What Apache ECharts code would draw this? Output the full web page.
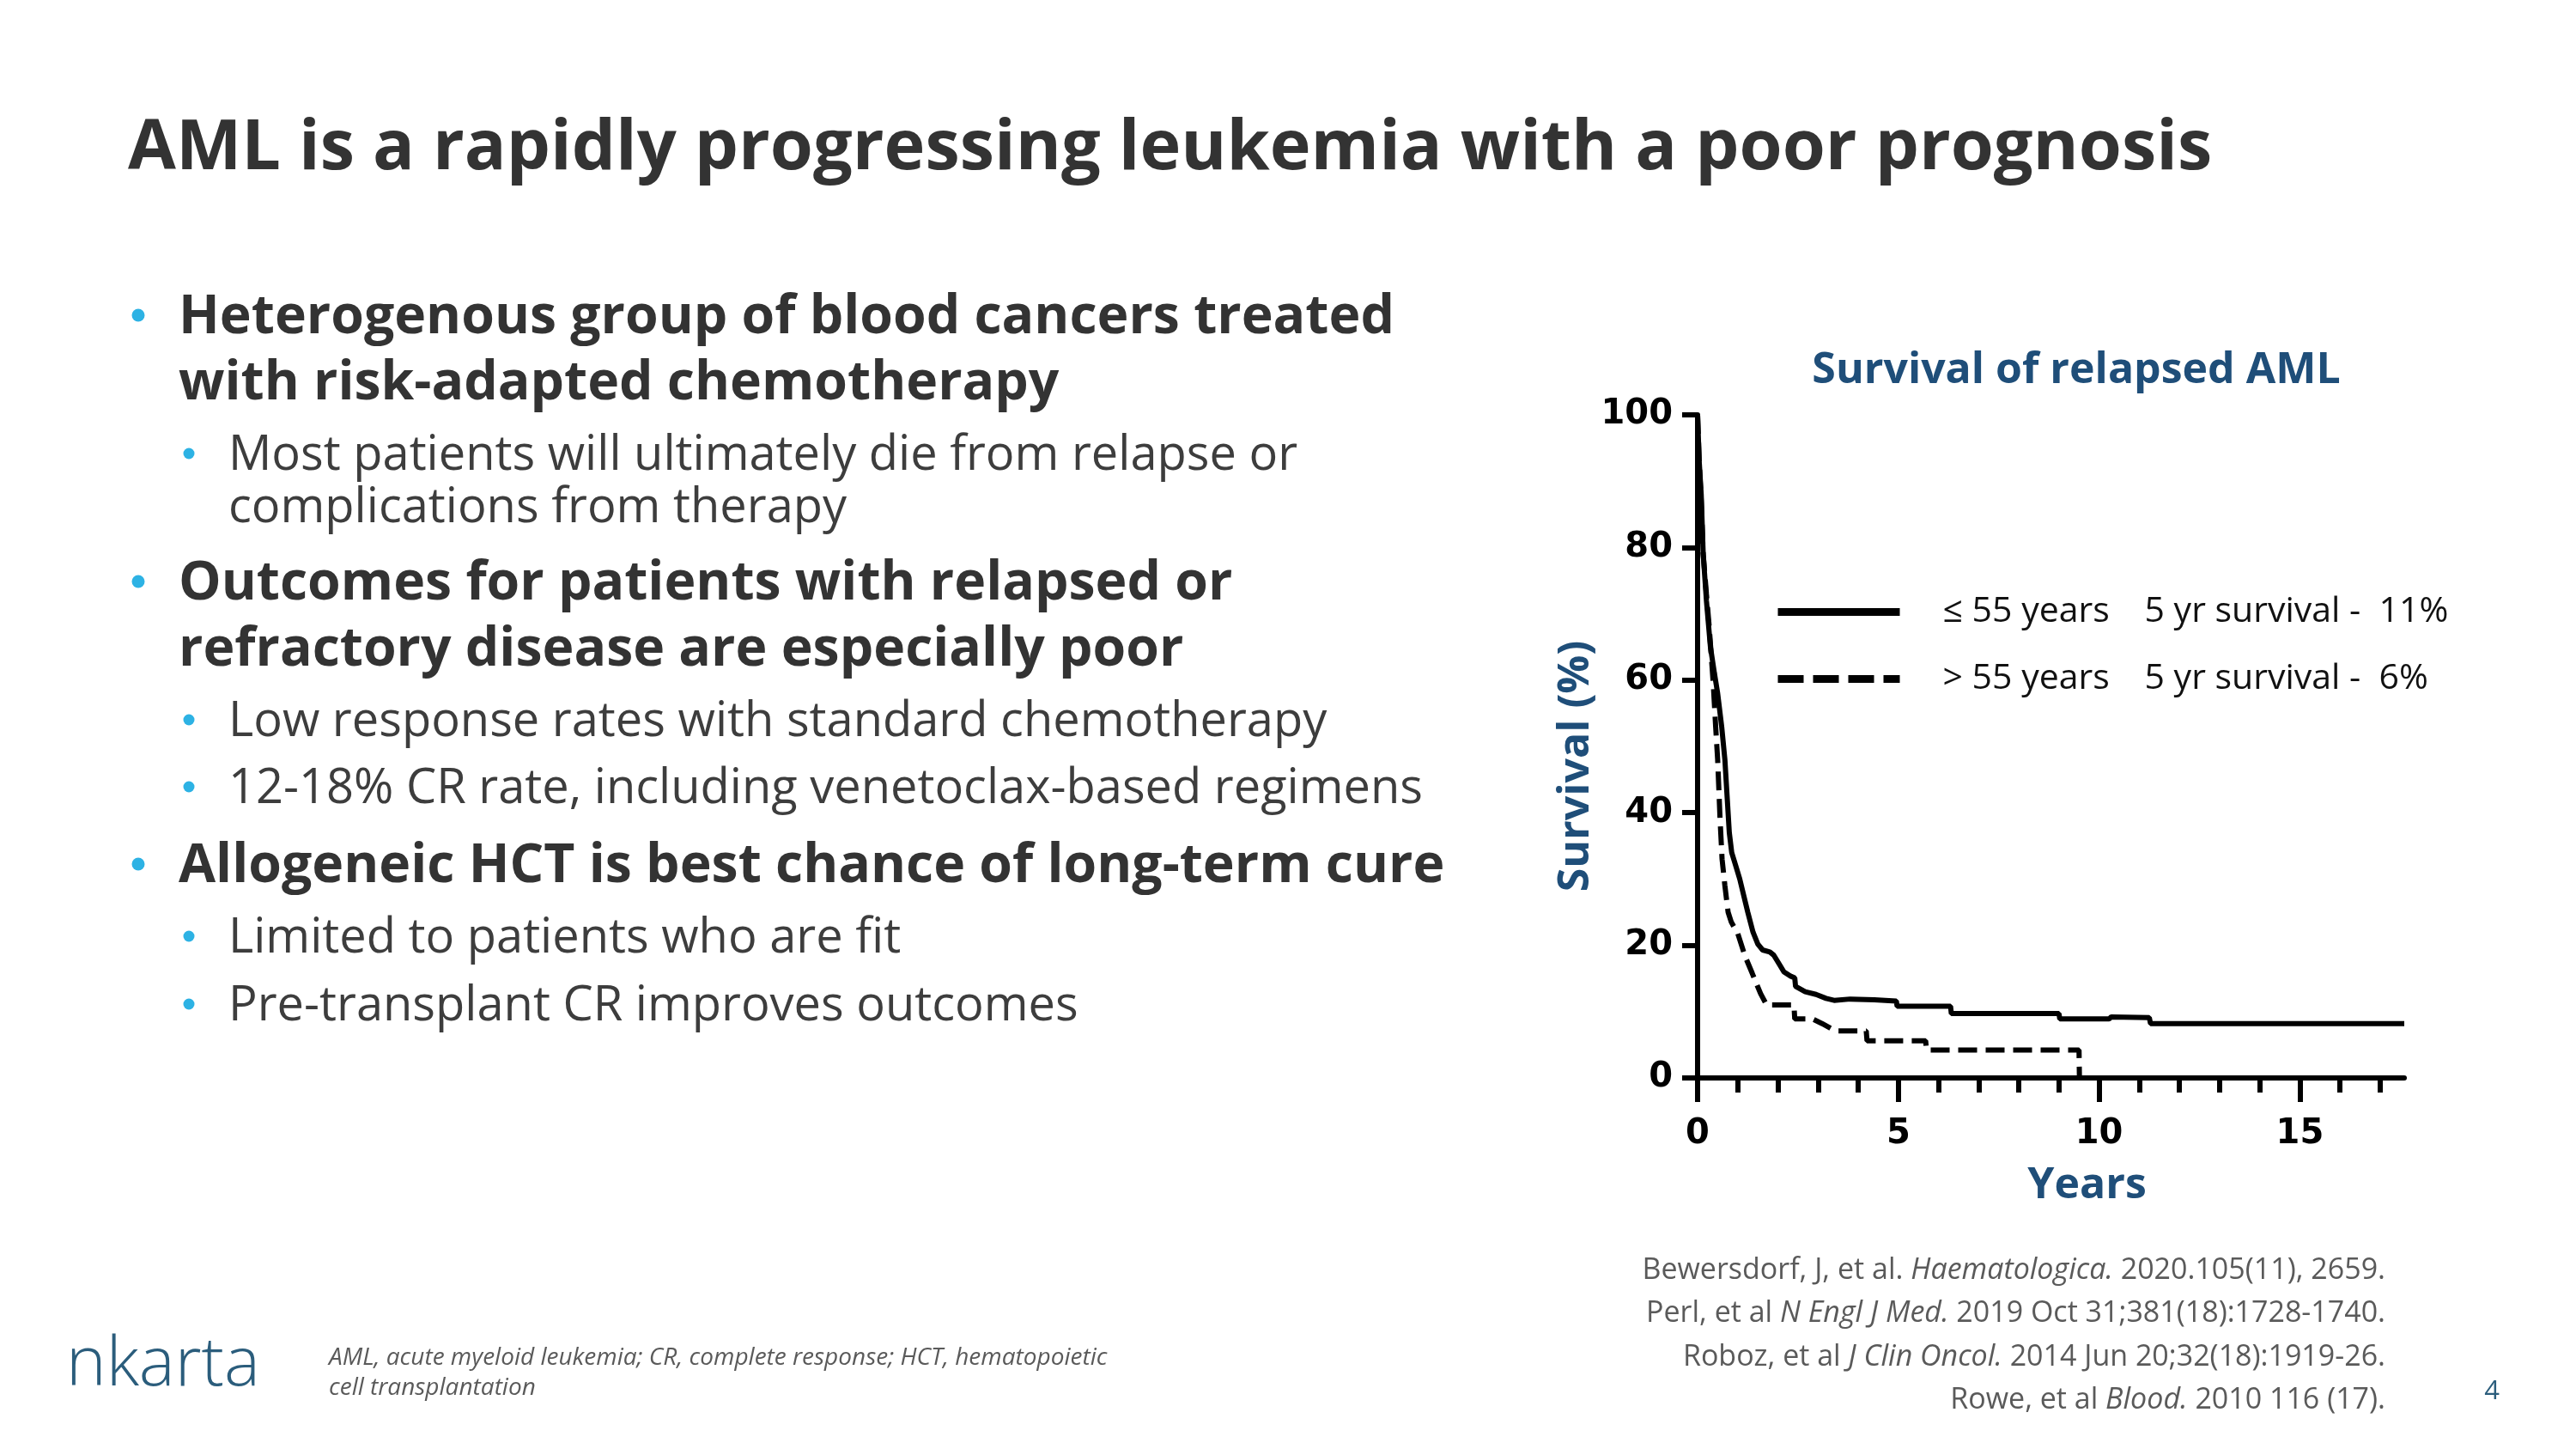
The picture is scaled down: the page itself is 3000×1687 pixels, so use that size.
<!DOCTYPE html>
<html>
<head>
<meta charset="utf-8">
<title>AML survival</title>
<script src="https://cdn.jsdelivr.net/npm/echarts@6.0.0/dist/echarts.min.js"></script>
<style>
  html, body { margin: 0; padding: 0; background: #fff; }
  #chart { width: 3000px; height: 1687px; }
</style>
</head>
<body>
<div id="chart"></div>
<script>
// Kaplan-Meier curves (years, % surviving)
const youngYears = [0, 0.04, 0.09, 0.14, 0.22, 0.32, 0.42, 0.5, 0.6, 0.68, 0.74, 0.79, 0.85, 0.95, 1.05, 1.15, 1.25, 1.38, 1.5, 1.62, 1.8, 1.9, 2.05, 2.15, 2.3, 2.42, 2.44, 2.68, 2.95, 3.2, 3.4, 3.8, 4.4, 4.95, 4.97, 6.3, 6.32, 9.0, 9.02, 10.25, 10.3, 11.25, 11.28, 17.6];
const youngSurvival = [100, 93, 88, 79, 72, 65, 61, 58, 53, 48, 42, 37, 34, 32, 30, 27.5, 25, 22, 20.2, 19.3, 19.0, 18.5, 17, 16, 15.4, 15.1, 13.8, 13.0, 12.6, 12.0, 11.7, 11.9, 11.8, 11.6, 10.8, 10.8, 9.7, 9.7, 8.9, 8.9, 9.2, 9.1, 8.2, 8.2];

const olderYears = [0, 0.04, 0.09, 0.14, 0.22, 0.29, 0.39, 0.45, 0.5, 0.56, 0.61, 0.68, 0.76, 0.84, 1.0, 1.18, 1.36, 1.57, 1.72, 2.4, 2.42, 2.86, 3.1, 3.43, 4.2, 4.22, 5.68, 5.7, 9.5, 9.51];
const olderSurvival = [100, 93, 87, 79, 73, 68, 59.5, 53, 48, 39, 33, 29, 25, 23.5, 21.8, 18.4, 15.8, 12.7, 11.0, 11.0, 8.9, 8.9, 8.2, 7.1, 7.1, 5.6, 5.6, 4.2, 4.2, 0];

const groupNames = ['≤ 55 years', '> 55 years'];
const fiveYearSurvival = ['11%', '6%'];

const yearTicks = [0, 1, 2, 3, 4, 5, 6, 7, 8, 9, 10, 11, 12, 13, 14, 15, 16, 17];
const yearLabels = [0, 5, 10, 15];

// slide text
const slideTitle = 'AML is a rapidly progressing leukemia with a poor prognosis';
const bulletLines = [
  { level: 1, text: 'Heterogenous group of blood cancers treated', dot: true },
  { level: 1, text: 'with risk-adapted chemotherapy', dot: false },
  { level: 2, text: 'Most patients will ultimately die from relapse or', dot: true },
  { level: 2, text: 'complications from therapy', dot: false },
  { level: 1, text: 'Outcomes for patients with relapsed or', dot: true },
  { level: 1, text: 'refractory disease are especially poor', dot: false },
  { level: 2, text: 'Low response rates with standard chemotherapy', dot: true },
  { level: 2, text: '12-18% CR rate, including venetoclax-based regimens', dot: true },
  { level: 1, text: 'Allogeneic HCT is best chance of long-term cure', dot: true },
  { level: 2, text: 'Limited to patients who are fit', dot: true },
  { level: 2, text: 'Pre-transplant CR improves outcomes', dot: true }
];
const bulletY = [370, 447, 531, 592, 680, 757, 841, 919, 1009, 1093, 1172];
const footnote = ['AML, acute myeloid leukemia; CR, complete response; HCT, hematopoietic', 'cell transplantation'];
const references = [
  ['Bewersdorf, J, et al. ', 'Haematologica.', ' 2020.105(11), 2659.'],
  ['Perl, et al ', 'N Engl J Med.', ' 2019 Oct 31;381(18):1728-1740.'],
  ['Roboz, et al ', 'J Clin Oncol.', ' 2014 Jun 20;32(18):1919-26.'],
  ['Rowe, et al ', 'Blood.', ' 2010 116 (17).']
];

const DARK = '#333333';
const BODY = '#3d3d3d';
const NAVY = '#1f4e79';
const CYAN = '#2db2e4';
const GREY = '#5a5a5a';
const FONT = '"Open Sans", "Noto Sans", sans-serif';

function pairs(xs, ys) {
  return xs.map(function (x, i) { return [x, ys[i]]; });
}

const graphics = [];
function addText(x, y, text, font, fill, align) {
  graphics.push({
    type: 'text', x: x, y: y, silent: true,
    style: { text: text, font: font, fill: fill, textAlign: align || 'left', textVerticalAlign: 'middle' }
  });
}

addText(149, 174, slideTitle, 'bold 81px ' + FONT, DARK);

bulletLines.forEach(function (b, i) {
  const y = bulletY[i];
  if (b.level === 1) {
    if (b.dot) graphics.push({ type: 'circle', silent: true, shape: { cx: 161, cy: y - 3, r: 7.5 }, style: { fill: CYAN } });
    addText(208, y, b.text, 'bold 62.5px ' + FONT, DARK);
  } else {
    if (b.dot) graphics.push({ type: 'circle', silent: true, shape: { cx: 220, cy: y - 3, r: 6.5 }, style: { fill: CYAN } });
    addText(266, y, b.text, '56px ' + FONT, BODY);
  }
});

addText(2418, 432, 'Survival of relapsed AML', 'bold 50px ' + FONT, NAVY, 'center');

// footer
addText(77, 1590, 'nkarta', '300 79px ' + FONT, '#2b5d7c');
addText(383, 1581, footnote[0], 'italic 28px ' + FONT, GREY);
addText(383, 1616, footnote[1], 'italic 28px ' + FONT, GREY);
const refY = [1479, 1529, 1580, 1630];
references.forEach(function (r, i) {
  graphics.push({
    type: 'text', x: 2778, y: refY[i], silent: true,
    style: {
      text: '{n|' + r[0] + '}{i|' + r[1] + '}{n|' + r[2] + '}',
      textAlign: 'right', textVerticalAlign: 'middle',
      rich: {
        n: { fontSize: 34, fontFamily: FONT, fill: GREY },
        i: { fontSize: 34, fontFamily: FONT, fontStyle: 'italic', fill: GREY }
      }
    }
  });
});
addText(2902, 1620, '4', '31px ' + FONT, '#2b5d7c', 'center');

const tickFont = { color: '#000', fontSize: 40, fontWeight: 'bold', fontFamily: '"DejaVu Sans", Verdana, sans-serif' };
const nameFont = { color: NAVY, fontSize: 50, fontWeight: 'bold', fontFamily: FONT };

const option = {
  animation: false,
  backgroundColor: '#fff',
  grid: { left: 1977, right: 200, top: 483, bottom: 432, containLabel: false, outerBoundsMode: 'none' },
  legend: {
    orient: 'vertical', left: 2066, top: 692, padding: 0,
    itemWidth: 142, itemHeight: 14, itemGap: 37, selectedMode: false,
    data: [
      { name: groupNames[0], lineStyle: { width: 9, type: 'solid' }, itemStyle: { opacity: 0 } },
      { name: groupNames[1], lineStyle: { width: 9, type: [30, 11] }, itemStyle: { opacity: 0 } }
    ],
    formatter: function (name) {
      return '{a|' + name + '}{b|5 yr survival -  ' + fiveYearSurvival[groupNames.indexOf(name)] + '}';
    },
    textStyle: {
      padding: [0, 0, 0, 45],
      rich: {
        a: { width: 235, fontSize: 41, fontFamily: FONT, color: '#111', lineHeight: 50 },
        b: { fontSize: 41, fontFamily: FONT, color: '#111', lineHeight: 50 }
      }
    }
  },
  xAxis: [
    {
      type: 'value', min: 0, max: 17.6, interval: 1, position: 'bottom',
      axisLine: { show: true, onZero: false, lineStyle: { color: '#000', width: 6 } },
      axisTick: { show: true, customValues: yearTicks, length: 17, lineStyle: { color: '#000', width: 6 } },
      axisLabel: {
        customValues: yearLabels, margin: 46,
        formatter: function (v) { return v % 5 === 0 ? String(v) : ''; },
        ...tickFont
      },
      splitLine: { show: false },
      name: 'Years', nameLocation: 'middle', nameGap: 101,
      nameTextStyle: Object.assign({ padding: [0, 0, 0, 84] }, nameFont)
    },
    {
      type: 'value', min: 0, max: 17.6, interval: 5, position: 'bottom',
      axisLine: { show: false },
      axisTick: { show: true, customValues: yearLabels, length: 28, lineStyle: { color: '#000', width: 6 } },
      axisLabel: { show: false },
      splitLine: { show: false }
    }
  ],
  yAxis: {
    type: 'value', min: 0, max: 100, interval: 20,
    axisLine: { show: true, onZero: false, lineStyle: { color: '#000', width: 6 } },
    axisTick: { show: true, length: 18, lineStyle: { color: '#000', width: 6 } },
    axisLabel: Object.assign({ margin: 29 }, tickFont),
    splitLine: { show: false },
    name: 'Survival (%)', nameLocation: 'middle', nameGap: 108, nameRotate: 90,
    nameTextStyle: Object.assign({ padding: [0, 46, 0, 0] }, nameFont)
  },
  series: [
    {
      type: 'line', name: groupNames[0], data: pairs(youngYears, youngSurvival),
      symbol: 'none', showSymbol: false, silent: true,
      itemStyle: { color: 'rgba(0,0,0,0)' },
      lineStyle: { color: '#000', width: 6, type: 'solid' }
    },
    {
      type: 'line', name: groupNames[1], data: pairs(olderYears, olderSurvival),
      symbol: 'none', showSymbol: false, silent: true,
      itemStyle: { color: 'rgba(0,0,0,0)' },
      lineStyle: { color: '#000', width: 6, type: [22, 10] }
    }
  ],
  graphic: { elements: graphics }
};

const chart = echarts.init(document.getElementById('chart'));
chart.setOption(option);
</script>
</body>
</html>
